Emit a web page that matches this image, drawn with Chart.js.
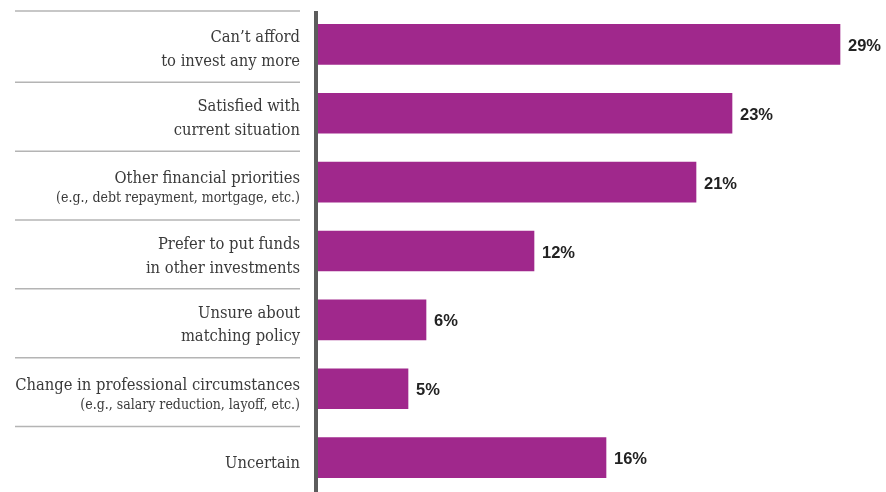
<!DOCTYPE html>
<html>
<head>
<meta charset="utf-8">
<script src="https://cdn.jsdelivr.net/npm/chart.js@4/dist/chart.umd.min.js"></script>
<style>
  html, body { margin: 0; padding: 0; background: #fff; overflow: hidden; }
  #wrap { width: 886px; height: 492px; }
</style>
</head>
<body>
<div id="wrap"><canvas id="reasonsChart" width="886" height="492"></canvas></div>
<script>
const categories = [
    ['Can’t afford', 'to invest any more'],
    ['Satisfied with', 'current situation'],
    ['Other financial priorities'],
    ['Prefer to put funds', 'in other investments'],
    ['Unsure about', 'matching policy'],
    ['Change in professional circumstances'],
    ['Uncertain']
];
const notes = ['', '', '(e.g., debt repayment, mortgage, etc.)', '', '', '(e.g., salary reduction, layoff, etc.)', ''];
const values = [29, 23, 21, 12, 6, 5, 16];

const BAR_COLOR = '#a0288c';
const LABEL_RIGHT = 300;
const LABEL_FONT = '"DejaVu Serif Condensed", "DejaVu Serif"';

// category text, separators, the axis rule and the value labels
const sideLabels = {
    id: 'sideLabels',
    afterDraw(chart) {
        const { ctx, chartArea, scales: { y } } = chart;
        const meta = chart.getDatasetMeta(0);
        ctx.save();

        ctx.strokeStyle = '#b4b4b4';
        ctx.lineWidth = 1.5;
        categories.forEach((lines, i) => {
            const c = y.getPixelForValue(i);
            const top = i === 0 ? chartArea.top + 1 : c - 31;
            ctx.beginPath();
            ctx.moveTo(15, top);
            ctx.lineTo(LABEL_RIGHT, top);
            ctx.stroke();
        });

        ctx.strokeStyle = '#5c5c5c';
        ctx.lineWidth = 4;
        ctx.beginPath();
        ctx.moveTo(chartArea.left - 2, chartArea.top + 1);
        ctx.lineTo(chartArea.left - 2, chart.height);
        ctx.stroke();

        ctx.textAlign = 'right';
        ctx.fillStyle = '#3a3a3a';
        categories.forEach((lines, i) => {
            const c = y.getPixelForValue(i);
            ctx.font = '16.4px ' + LABEL_FONT;
            if (notes[i]) {
                ctx.fillText(lines[0], LABEL_RIGHT, c + 1);
                ctx.font = '14px ' + LABEL_FONT;
                ctx.fillText(notes[i], LABEL_RIGHT, c + 20);
            } else if (lines.length === 2) {
                ctx.fillText(lines[0], LABEL_RIGHT, c - 2);
                ctx.fillText(lines[1], LABEL_RIGHT, c + 21.5);
            } else {
                ctx.fillText(lines[0], LABEL_RIGHT, c + 10);
            }
        });

        ctx.textAlign = 'left';
        ctx.font = 'bold 16.5px "Liberation Sans"';
        ctx.fillStyle = '#222';
        meta.data.forEach((bar, i) => {
            ctx.fillText(values[i] + '%', bar.x + 8, bar.y + 6.5);
        });

        ctx.restore();
    }
};

new Chart(document.getElementById('reasonsChart'), {
    type: 'bar',
    data: {
        labels: categories.map(l => l.join(' ')),
        datasets: [{
            data: values,
            backgroundColor: BAR_COLOR,
            borderWidth: 0,
            barThickness: 40
        }]
    },
    options: {
        indexAxis: 'y',
        responsive: false,
        animation: false,
        devicePixelRatio: 1,
        layout: { padding: { left: 318, right: 28, top: 10, bottom: 0 } },
        scales: {
            x: { display: false, min: 0, max: 30 },
            y: { display: false }
        },
        plugins: {
            legend: { display: false },
            tooltip: { enabled: false }
        }
    },
    plugins: [sideLabels]
});
</script>
</body>
</html>
